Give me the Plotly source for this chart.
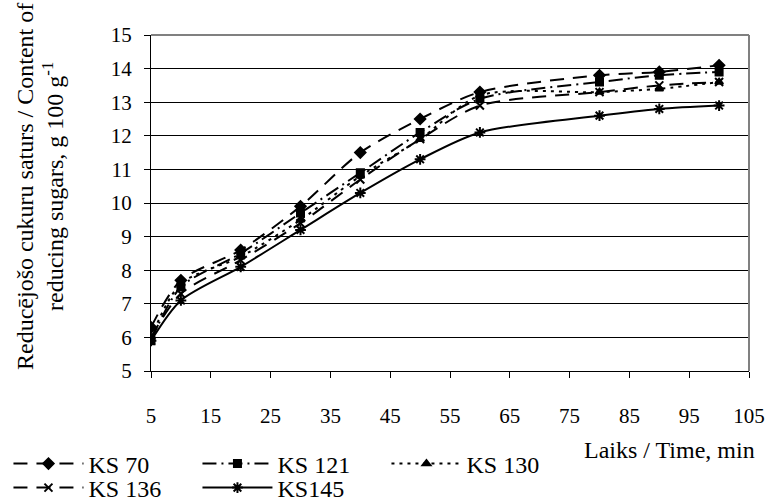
import plotly.graph_objects as go

time_min = [5, 10, 20, 30, 40, 50, 60, 80, 90, 100]
ks70 = [6.3, 7.7, 8.6, 9.9, 11.5, 12.5, 13.3, 13.8, 13.9, 14.1]
ks121 = [5.9, 7.5, 8.5, 9.7, 10.9, 12.1, 13.1, 13.6, 13.8, 13.9]
ks130 = [6.0, 7.6, 8.4, 9.5, 10.8, 11.9, 13.2, 13.3, 13.4, 13.6]
ks136 = [6.0, 7.3, 8.3, 9.4, 10.7, 11.9, 12.9, 13.3, 13.5, 13.6]
ks145 = [5.9, 7.1, 8.1, 9.2, 10.3, 11.3, 12.1, 12.6, 12.8, 12.9]

x_ticks = [5, 15, 25, 35, 45, 55, 65, 75, 85, 95, 105]
y_ticks = [5, 6, 7, 8, 9, 10, 11, 12, 13, 14, 15]

FONT = "Liberation Serif, Times New Roman, serif"

series = [
    ("KS 70", ks70, "diamond", "14px,9px", 8, "legend"),
    ("KS 121", ks121, "square", "14px,5px,2px,5px", 7, "legend"),
    ("KS 130", ks130, "triangle-up", "3px,5px", 7, "legend"),
    ("KS 136", ks136, "x-thin-open", "14px,9px", 8, "legend2"),
    ("KS145", ks145, "asterisk-open", None, 9, "legend2"),
]

fig = go.Figure()
for name, vals, sym, dash, msize, leg in series:
    fig.add_trace(go.Scatter(
        x=time_min, y=vals, name=name, mode="lines+markers", legend=leg,
        line=dict(color="black", width=2, shape="spline", smoothing=0.8,
                  dash=dash if dash else "solid"),
        marker=dict(symbol=sym, size=msize, color="black",
                    line=dict(color="black", width=2)),
    ))

leg_common = dict(
    orientation="h", xref="container", yref="container",
    x=0.011, xanchor="left", yanchor="middle",
    entrywidth=104, entrywidthmode="pixels",
    font=dict(family=FONT, size=24, color="black"),
    tracegroupgap=0, itemwidth=70,
    bgcolor="rgba(0,0,0,0)",
)

fig.update_layout(
    width=769, height=503,
    margin=dict(l=151, r=20, t=35, b=132, autoexpand=False),
    paper_bgcolor="white", plot_bgcolor="white",
    font=dict(family=FONT, size=21, color="black"),
    showlegend=True,
    legend=dict(leg_common, y=1 - 464 / 503),
    legend2=dict(leg_common, y=1 - 488 / 503),
    xaxis=dict(
        range=[5, 105], tickvals=x_ticks, ticktext=[str(v) for v in x_ticks],
        showgrid=False, zeroline=False, automargin=False,
        showline=True, linecolor="black", linewidth=1,
        ticks="outside", ticklen=6, tickcolor="black",
        ticklabelstandoff=20,
        tickfont=dict(family=FONT, size=21),
    ),
    yaxis=dict(
        range=[5, 15], tickvals=y_ticks,
        showgrid=True, gridcolor="black", gridwidth=1,
        zeroline=False, automargin=False,
        showline=True, linecolor="black", linewidth=1,
        ticks="outside", ticklen=6, tickcolor="black",
        ticklabelstandoff=8,
        tickfont=dict(family=FONT, size=21),
    ),
)

# grey plot-area border on top and right
fig.add_shape(type="line", xref="paper", yref="paper", x0=0, x1=1, y0=1, y1=1,
              line=dict(color="#808080", width=2))
fig.add_shape(type="line", xref="paper", yref="paper", x0=1, x1=1, y0=0, y1=1,
              line=dict(color="#808080", width=2))

fig.add_annotation(text="Laiks / Time, min", xref="paper", yref="paper",
                   x=1.013, y=-0.235, xanchor="right", yanchor="middle",
                   showarrow=False, font=dict(family=FONT, size=24))

# y-axis title, two lines placed individually
ytitle_lines = ["Reducējošo cukuru saturs / Content of",
                "reducing sugars, g 100 g<sup>-1</sup>"]
for line_text, xc in zip(ytitle_lines, [25, 53]):
    fig.add_annotation(text=line_text, xref="paper", yref="paper",
                       x=(xc - 151) / 598, y=(371 - 187) / 336,
                       xanchor="center", yanchor="middle", textangle=-90,
                       showarrow=False, font=dict(family=FONT, size=24))

fig.write_html("out.html")
